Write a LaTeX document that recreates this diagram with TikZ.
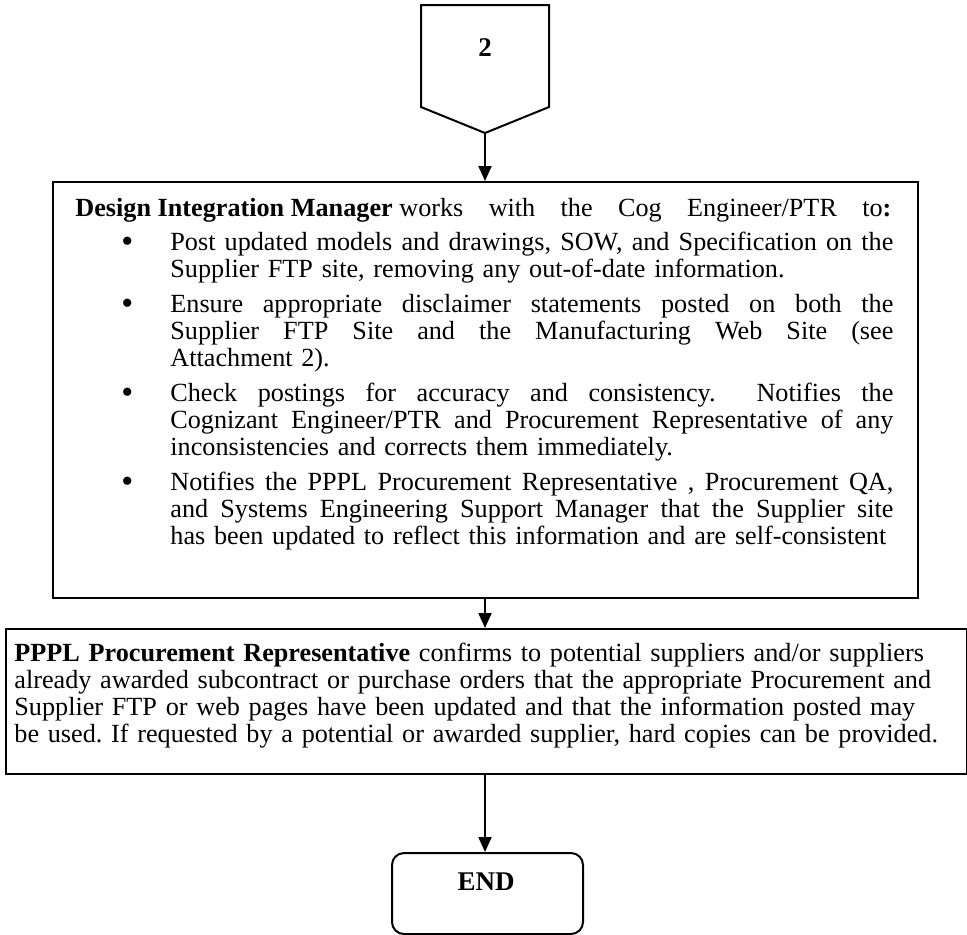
\documentclass[tikz,border=0pt]{standalone}
\usepackage{fontspec}
\setmainfont{Liberation Serif}
\usetikzlibrary{arrows.meta}

% body text size and line spacing
\newcommand\bodyfont{\fontsize{13.1pt}{13.6pt}\selectfont\frenchspacing\hyphenpenalty=10000 }
% bullet in its hanging column
\newcommand\bulletmark{\makebox[47.5pt][l]{\hspace*{21pt}\makebox[10pt][c]{\raisebox{-1pt}{\scalebox{1.3}{\textbullet}}}}}
% a line spread to a given width, its word spaces taking up the slack
\newcommand\spreadline[2]{\hbox to #1{\spaceskip=\fontdimen2\font plus 1fil\relax #2}}
% fixed word space for the bold lead-in
\newcommand\wsp{\hspace{3.3pt}}
% a fully justified line of a bullet item
\newcommand\jline[1]{\spreadline{361.5pt}{#1}}
% indent of the continuation lines of a bullet item
\newcommand\contind{\hspace*{47.5pt}}

\tikzset{
  stepbox/.style={draw, line width=1pt, rectangle, inner sep=0pt},
  endbox/.style={draw, line width=1pt, rectangle, rounded corners=6pt, inner sep=0pt,
                 minimum width=95.5pt, minimum height=40.5pt},
  txt/.style={inner sep=0pt, font=\bodyfont, align=left},
  lbl/.style={inner sep=0pt, font=\fontsize{13.5pt}{13.6pt}\selectfont\bfseries},
  arr/.style={line width=1pt, -{Triangle[length=7.5pt,width=6.5pt]}},
}

\begin{document}
\begin{tikzpicture}[x=0.5pt,y=-0.5pt]
\useasboundingbox (0,0) rectangle (967,934);

% off-page connector "2"
\draw[line width=1pt, line join=miter] (421,5) -- (549,5) -- (549,107) -- (485,133) -- (421,107) -- cycle;
\coordinate (tip) at (485,133);
\node[lbl] (conn) at (485,48) {2};

% Design Integration Manager step
\node[stepbox, anchor=north west, minimum width=432.5pt, minimum height=208pt] (dim) at (52,181) {};
\node[txt, text width=430pt, anchor=base west] (dimtext) at (75,216) {%
\spreadline{408pt}{\textbf{Design\wsp Integration\wsp Manager}\wsp works with the Cog Engineer/PTR to\textbf{:}}\\[3.65pt]
\bulletmark\jline{Post updated models and drawings, SOW, and Specification on the}\\
\contind Supplier FTP site, removing any out-of-date information.\\[3.65pt]
\bulletmark\jline{Ensure appropriate disclaimer statements posted on both the}\\
\contind\jline{Supplier FTP Site and the Manufacturing Web Site (see}\\
\contind Attachment 2).\\[3.65pt]
\bulletmark\jline{Check postings for accuracy and consistency.\ \ Notifies the}\\
\contind\jline{Cognizant Engineer/PTR and Procurement Representative of any}\\
\contind inconsistencies and corrects them immediately.\\[3.65pt]
\bulletmark\jline{Notifies the PPPL Procurement Representative , Procurement QA,}\\
\contind\jline{and Systems Engineering Support Manager that the Supplier site}\\
\contind has been updated to reflect this information and are self-consistent};

% PPPL Procurement Representative step
\node[stepbox, anchor=north west, minimum width=480.5pt, minimum height=72.5pt] (ppr) at (5,628) {};
\node[txt, text width=478pt, anchor=base west] (pprtext) at (14,661) {%
\textbf{PPPL Procurement Representative} confirms to potential suppliers and/or suppliers\\
already awarded subcontract or purchase orders that the appropriate Procurement and\\
Supplier FTP or web pages have been updated and that the information posted may\\
be used. If requested by a potential or awarded supplier, hard copies can be provided.};

% terminator
\node[endbox, anchor=north west] (end) at (391,852) {};
\node[lbl] (endlabel) at (486,882) {END};

% connectors
\draw[arr] (tip) -- (tip |- dim.north);
\draw[arr] (tip |- dim.south) -- (tip |- ppr.north);
\draw[arr] (tip |- ppr.south) -- (tip |- end.north);
\end{tikzpicture}
\end{document}
